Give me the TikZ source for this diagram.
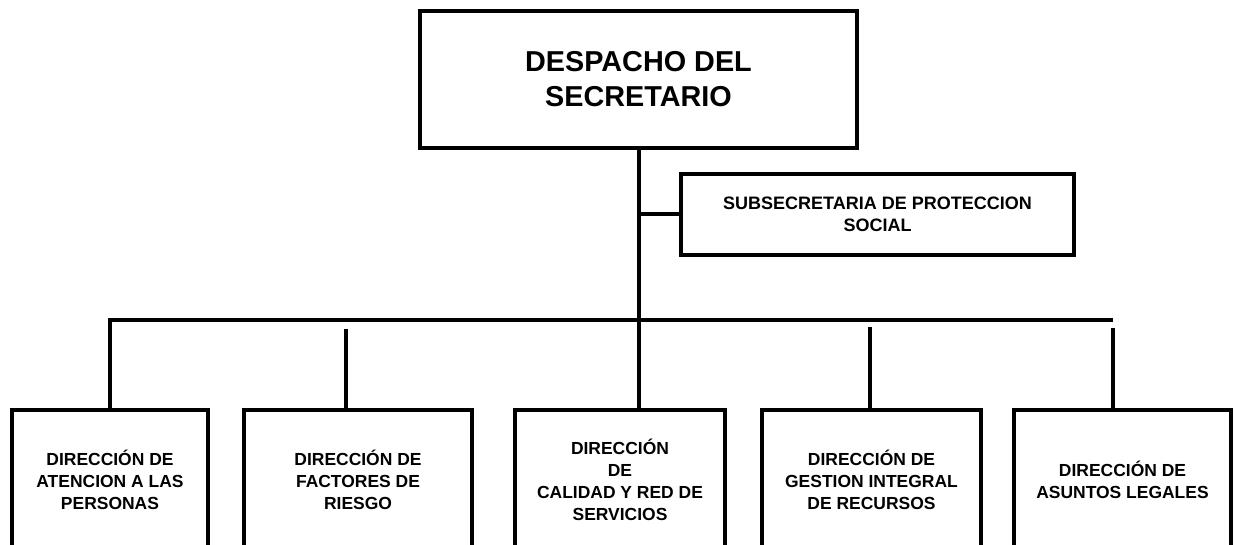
\documentclass[tikz,border=0pt]{standalone}
\usepackage{fontspec}
\setmainfont{Liberation Sans}
\begin{document}
\begin{tikzpicture}[x=0.75pt,y=-0.75pt,
  box/.style={draw=black, line width=3pt, align=center, inner sep=0pt},
  conn/.style={draw=black, line width=3pt},
  bigtxt/.style={font=\fontsize{21.6}{26.25}\selectfont\bfseries},
  midtxt/.style={font=\fontsize{13.5}{16.5}\selectfont\bfseries},
  smalltxt/.style={font=\fontsize{13.1}{16.5}\selectfont\bfseries},
  lowbox/.style={box, smalltxt, minimum height={139*0.75pt}}
]
\useasboundingbox (0,0) rectangle (1234,545);
\clip (0,0) rectangle (1234,545);
\fill[white] (0,0) rectangle (1234,545);

\node[box, bigtxt, minimum width={437*0.75pt}, minimum height={137*0.75pt}] (top) at (638.5,79.5) {DESPACHO DEL\\SECRETARIO};
\node[box, midtxt, minimum width={393*0.75pt}, minimum height={81*0.75pt}] (sub) at (877.5,214.5) {SUBSECRETARIA DE PROTECCION\\SOCIAL};

\node[lowbox, minimum width={196*0.75pt}] (b1) at (110,479.5) {DIRECCIÓN DE\\ATENCION A LAS\\PERSONAS};
\node[lowbox, minimum width={228*0.75pt}] (b2) at (358,479.5) {DIRECCIÓN DE\\FACTORES DE\\RIESGO};
\node[lowbox, minimum width={210*0.75pt}] (b3) at (620,479.5) {DIRECCIÓN\\DE\\CALIDAD Y RED DE\\SERVICIOS};
\node[lowbox, minimum width={219*0.75pt}] (b4) at (871.5,479.5) {DIRECCIÓN DE\\GESTION INTEGRAL\\DE RECURSOS};
\node[lowbox, minimum width={217*0.75pt}] (b5) at (1122.5,479.5) {DIRECCIÓN DE\\ASUNTOS LEGALES};

\coordinate (bar) at (1113,320);
\coordinate (t2) at (346,329);
\coordinate (t4) at (870,327);
\coordinate (t5) at (1113,328);

\draw[conn] (top.south) -- (top.south |- b3.north);
\draw[conn] (top.south |- sub.west) -- (sub.west);
\draw[conn] (b1.north) |- (bar);
\draw[conn] (t2) -- ([yshift=-3pt]t2 |- b2.north);
\draw[conn] (t4) -- (t4 |- b4.north);
\draw[conn] (t5) -- (t5 |- b5.north);
\end{tikzpicture}
\end{document}
